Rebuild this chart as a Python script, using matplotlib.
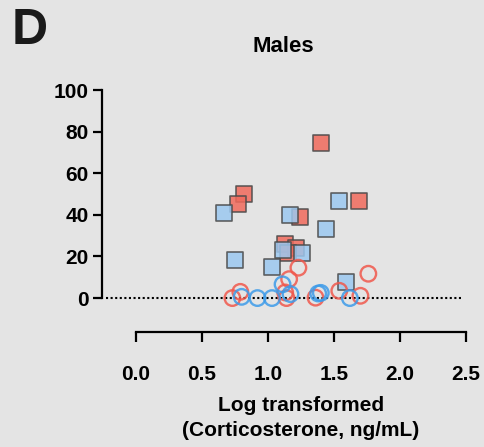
import numpy as np
import matplotlib.pyplot as plt

plt.rcParams['font.family'] = ['Liberation Sans', 'DejaVu Sans']
plt.rcParams['font.weight'] = 'bold'

# squares (red / blue), open circles (red / blue)
red_sq_x = [1.40, 0.82, 0.77, 1.69, 1.24, 1.13, 1.21, 1.15]
red_sq_y = [74.4, 50.0, 45.3, 46.5, 38.9, 26.0, 24.0, 21.8]
blue_sq_x = [0.67, 1.17, 1.54, 1.44, 0.75, 1.03, 1.11, 1.26, 1.59]
blue_sq_y = [40.9, 39.7, 46.5, 33.2, 18.4, 14.7, 23.1, 21.8, 7.8]
red_ci_x = [0.73, 0.79, 1.23, 1.16, 1.13, 1.14, 1.36, 1.54, 1.70, 1.76]
red_ci_y = [0.0, 3.0, 14.6, 9.1, 2.7, 0.0, 0.2, 3.5, 1.1, 11.7]
blue_ci_x = [0.80, 0.92, 1.03, 1.11, 1.17, 1.38, 1.40, 1.62]
blue_ci_y = [0.6, 0.0, 0.0, 6.6, 1.9, 2.2, 2.5, 0.0]

bg = '#e4e4e4'
fig = plt.figure(figsize=(4.85, 4.47), dpi=100, facecolor=bg)
W, H = 485, 447
# axes box in pixels: left 102, right 466, top 90, bottom 332
ax = fig.add_axes([102 / W, 1 - 332 / H, (466 - 102) / W, (332 - 90) / H])
ax.set_facecolor(bg)
ax.set_xlim(-0.258, 2.5)
ax.set_ylim(-16.3, 100)

ax.axhline(0, xmin=0.01, xmax=0.99, color='black', lw=1.5, ls=(0, (1, 1.2)), zorder=1)

ax.scatter(red_sq_x, red_sq_y, marker='s', s=125, facecolor='#f06a5c', alpha=0.85,
           edgecolor='#4a4a4a', linewidth=1.2, zorder=3, clip_on=False)
ax.scatter(blue_sq_x, blue_sq_y, marker='s', s=125, facecolor='#9cc8f0', alpha=0.85,
           edgecolor='#4a4a4a', linewidth=1.2, zorder=3, clip_on=False)
ax.scatter(red_ci_x, red_ci_y, marker='o', s=125, facecolor='none',
           edgecolor='#f0584c', alpha=0.85, linewidth=1.7, zorder=4, clip_on=False)
ax.scatter(blue_ci_x, blue_ci_y, marker='o', s=125, facecolor='none',
           edgecolor='#3d9be9', alpha=0.85, linewidth=1.7, zorder=4, clip_on=False)

for s in ['top', 'right']:
    ax.spines[s].set_visible(False)
ax.spines['left'].set_bounds(0, 100)
ax.spines['bottom'].set_bounds(0, 2.5)
for s in ['left', 'bottom']:
    ax.spines[s].set_linewidth(1.6)

ax.set_yticks([0, 20, 40, 60, 80, 100])
ax.set_xticks([0.0, 0.5, 1.0, 1.5, 2.0, 2.5])
ax.set_xticklabels(['0.0', '0.5', '1.0', '1.5', '2.0', '2.5'])
ax.tick_params(axis='y', length=6.5, width=1.6, labelsize=15, pad=3)
ax.tick_params(axis='x', length=7, width=1.6, labelsize=15, pad=17)

ax.set_xlabel('Log transformed\n(Corticosterone, ng/mL)', fontsize=15, fontweight='bold',
              linespacing=1.4)
ax.xaxis.set_label_coords((301 - 102) / (466 - 102), -(396 - 332) / (332 - 90),
                          transform=ax.transAxes)
ax.xaxis.label.set_va('top')

fig.text(283 / W, 1 - 46 / H, 'Males', fontsize=16, fontweight='bold',
         ha='center', va='center')
fig.text(12 / W, 1 - 44 / H, 'D', fontsize=36, fontweight='bold',
         ha='left', va='baseline', color='#1a1a1a')

plt.savefig('out.png', dpi=100, facecolor=bg)
